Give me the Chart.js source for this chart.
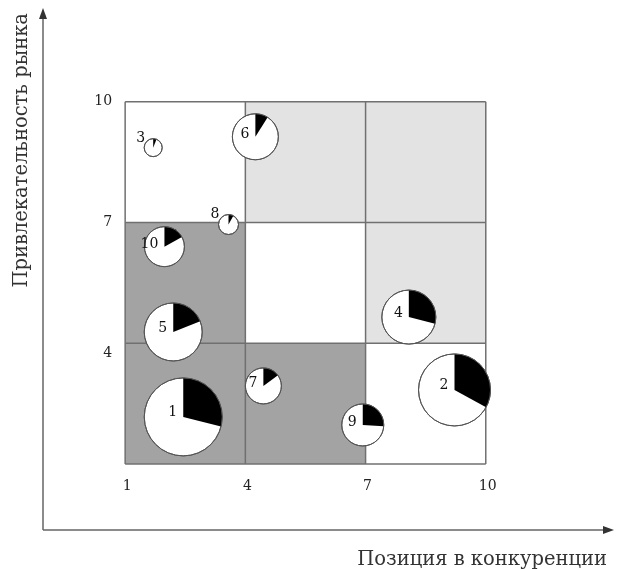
<!DOCTYPE html>
<html>
<head>
<meta charset="utf-8">
<script src="https://cdn.jsdelivr.net/npm/chart.js@4/dist/chart.umd.min.js"></script>
<style>
  html, body { margin: 0; padding: 0; background: #fff; }
  #wrap { width: 617px; height: 569px; }
</style>
</head>
<body>
<div id="wrap"><canvas id="matrix"></canvas></div>
<script>
// business units (numbers on the circles)
const units = ['1', '2', '3', '4', '5', '6', '7', '8', '9', '10'];
// position in competition (x) and market attractiveness (y)
const position = [2.45, 9.22, 1.7, 8.08, 2.2, 4.25, 4.45, 3.58, 6.93, 1.98];
const attractiveness = [2.17, 2.84, 8.86, 4.65, 4.28, 9.13, 2.94, 6.95, 1.97, 6.4];
// market size -> circle radius
const marketSize = [39, 36, 9, 27, 29, 23, 18, 10, 21, 20];
// company's share of the market (black slice)
const share = [0.29, 0.33, 0.06, 0.29, 0.19, 0.09, 0.15, 0.08, 0.26, 0.17];

const tickValues = [1, 4, 7, 10];
// zones of the matrix, rows from bottom to top, columns left to right
const zones = [
  ['dark', 'dark', 'none'],
  ['dark', 'none', 'light'],
  ['none', 'light', 'light']
];
const zoneColor = { dark: '#a3a3a3', light: '#e3e3e3', none: '#ffffff' };

const SERIF = '"DejaVu Serif", "Liberation Serif", serif';

const matrixPlugin = {
  id: 'matrix',
  beforeDatasetsDraw(chart) {
    const ctx = chart.ctx, xs = chart.scales.x, ys = chart.scales.y;
    ctx.save();
    // cells
    zones.forEach((row, ri) => {
      row.forEach((z, ci) => {
        const x0 = xs.getPixelForValue(tickValues[ci]);
        const x1 = xs.getPixelForValue(tickValues[ci + 1]);
        const y0 = ys.getPixelForValue(tickValues[ri + 1]);
        const y1 = ys.getPixelForValue(tickValues[ri]);
        ctx.fillStyle = zoneColor[z];
        ctx.fillRect(x0, y0, x1 - x0, y1 - y0);
      });
    });
    // grid lines
    ctx.strokeStyle = '#707070';
    ctx.lineWidth = 1.5;
    const lo = tickValues[0], hi = tickValues[tickValues.length - 1];
    tickValues.forEach(v => {
      ctx.beginPath();
      ctx.moveTo(xs.getPixelForValue(v), ys.getPixelForValue(lo));
      ctx.lineTo(xs.getPixelForValue(v), ys.getPixelForValue(hi));
      ctx.stroke();
      ctx.beginPath();
      ctx.moveTo(xs.getPixelForValue(lo), ys.getPixelForValue(v));
      ctx.lineTo(xs.getPixelForValue(hi), ys.getPixelForValue(v));
      ctx.stroke();
    });
    // tick labels
    ctx.fillStyle = '#222';
    ctx.font = '14px ' + SERIF;
    ctx.textAlign = 'center';
    ctx.textBaseline = 'middle';
    tickValues.forEach(v => {
      ctx.fillText(String(v), xs.getPixelForValue(v) + 2, ys.getPixelForValue(lo) + 22);
    });
    ctx.textAlign = 'right';
    tickValues.slice(1).forEach(v => {
      ctx.fillText(String(v), xs.getPixelForValue(lo) - 13, ys.getPixelForValue(v) + (v === 4 ? 10 : 0));
    });
    // axes with arrows
    const ax = chart.chartArea;
    ctx.strokeStyle = '#666';
    ctx.fillStyle = '#333';
    ctx.lineWidth = 1.5;
    ctx.beginPath();
    ctx.moveTo(ax.left, ax.bottom);
    ctx.lineTo(ax.left, ax.top + 6);
    ctx.moveTo(ax.left, ax.bottom);
    ctx.lineTo(ax.right - 6, ax.bottom);
    ctx.stroke();
    ctx.beginPath();
    ctx.moveTo(ax.left, ax.top - 2);
    ctx.lineTo(ax.left - 4, ax.top + 9);
    ctx.lineTo(ax.left + 4, ax.top + 9);
    ctx.closePath();
    ctx.fill();
    ctx.beginPath();
    ctx.moveTo(ax.right + 2, ax.bottom);
    ctx.lineTo(ax.right - 9, ax.bottom - 4);
    ctx.lineTo(ax.right - 9, ax.bottom + 4);
    ctx.closePath();
    ctx.fill();
    // axis titles
    ctx.fillStyle = '#333';
    ctx.font = '19.5px ' + SERIF;
    ctx.textAlign = 'right';
    ctx.textBaseline = 'alphabetic';
    ctx.fillText('Позиция в конкуренции', 607, 565);
    ctx.save();
    ctx.translate(27, 13);
    ctx.rotate(-Math.PI / 2);
    ctx.textAlign = 'right';
    ctx.fillText('Привлекательность рынка', 0, 0);
    ctx.restore();
    ctx.restore();
  },
  afterDatasetsDraw(chart) {
    const ctx = chart.ctx;
    const meta = chart.getDatasetMeta(0);
    ctx.save();
    meta.data.forEach((el, i) => {
      const r = el.options.radius;
      const a0 = -Math.PI / 2;
      const a1 = a0 + share[i] * Math.PI * 2;
      ctx.beginPath();
      ctx.moveTo(el.x, el.y);
      ctx.arc(el.x, el.y, r, a0, a1);
      ctx.closePath();
      ctx.fillStyle = '#000';
      ctx.fill();
      ctx.beginPath();
      ctx.arc(el.x, el.y, r, 0, Math.PI * 2);
      ctx.strokeStyle = '#555';
      ctx.lineWidth = 1;
      ctx.stroke();
      // number label
      ctx.fillStyle = '#111';
      ctx.font = '14px ' + SERIF;
      ctx.textBaseline = 'middle';
      ctx.textAlign = 'right';
      if (r < 12) {
        ctx.fillText(units[i], el.x - r + 1, el.y - r);
      } else {
        ctx.fillText(units[i], el.x - 6, el.y - r * 0.12);
      }
    });
    ctx.restore();
  }
};

new Chart(document.getElementById('matrix'), {
  type: 'bubble',
  data: {
    datasets: [{
      data: units.map((u, i) => ({ x: position[i], y: attractiveness[i], r: marketSize[i] })),
      backgroundColor: '#fff',
      borderColor: '#555',
      borderWidth: 1
    }]
  },
  options: {
    responsive: true,
    maintainAspectRatio: false,
    animation: false,
    events: [],
    layout: { autoPadding: false, padding: { left: 43, right: 5, top: 10, bottom: 39 } },
    plugins: { legend: { display: false }, tooltip: { enabled: false } },
    scales: {
      x: { type: 'linear', min: -1.05, max: 13.15, display: false },
      y: { type: 'linear', min: -0.64, max: 12.28, display: false }
    }
  },
  plugins: [matrixPlugin]
});
</script>
</body>
</html>
